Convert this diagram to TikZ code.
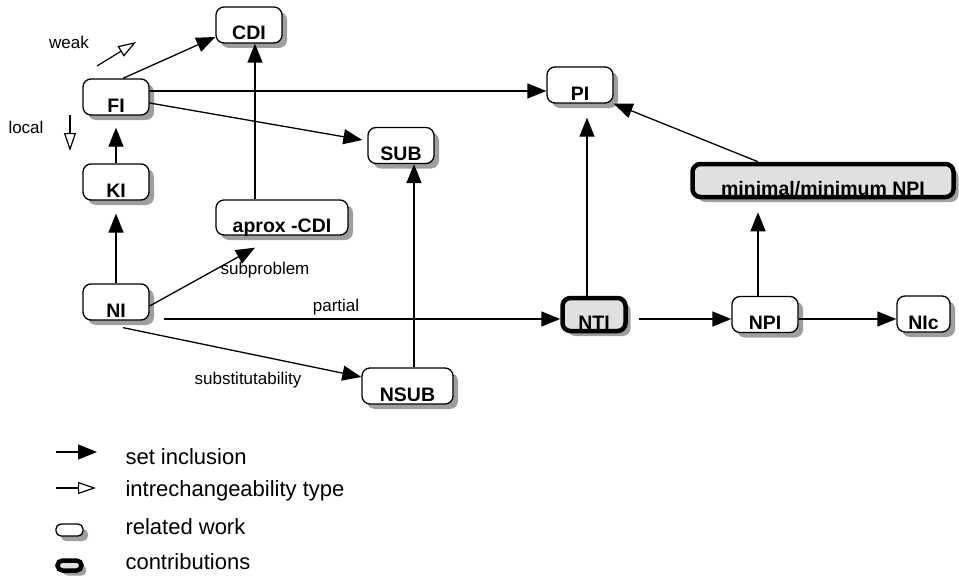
\documentclass[tikz,border=0pt]{standalone}
\usepackage{fontspec}
\setmainfont{Liberation Sans}
\usetikzlibrary{arrows.meta,shadows}
\begin{document}
\begin{tikzpicture}[x=1pt,y=-1pt,
  shade box/.style={drop shadow={shadow xshift=5pt,shadow yshift=-5pt,fill=black!38,opacity=1}},
  work/.style={draw=black,line width=1.3pt,fill=white,rounded corners=8pt,shade box,
    inner sep=0pt,text height=30pt,text depth=0pt,
    font=\fontsize{19.5}{24}\selectfont\bfseries,minimum width=66pt,minimum height=36pt},
  contrib/.style={work,line width=4.5pt,fill=black!12},
  incl/.style={line width=1.3pt,-{Triangle[length=19pt,width=15pt]}},
  kind/.style={line width=1.2pt,-{Triangle[open,length=18pt,width=12pt]}},
  elabel/.style={font=\fontsize{17}{20}\selectfont},
  leglabel/.style={font=\fontsize{22}{26}\selectfont,anchor=west}]
\useasboundingbox (0,0) rectangle (959,578);

% approaches
\node[work] (CDI) at (249,25) {CDI};
\node[work] (FI) at (116,97) {FI\hspace{12pt}};
\node[work] (KI) at (116,182) {KI\hspace{8pt}};
\node[work,minimum width=132pt,minimum height=35pt] (ACDI) at (282,217.5) {aprox -CDI\hspace{20pt}};
\node[work] (NI) at (116,302) {NI\hspace{8pt}};
\node[work] (SUB) at (401,145.5) {SUB};
\node[work,minimum width=91pt] (NSUB) at (407.5,386) {NSUB};
\node[work] (PI) at (580,85) {PI\hspace{12pt}};
\node[contrib,minimum width=261pt,minimum height=33pt] (MNPI) at (823,180.5) {minimal/minimum NPI\hspace{16pt}};
\node[contrib,minimum width=63pt,minimum height=33pt] (NTI) at (594,314.5) {NTI};
\node[work] (NPI) at (765,314.5) {NPI};
\node[work,minimum width=53pt] (NIc) at (923.5,314) {NIc};

% set inclusion
\draw[incl] ([xshift=7pt]FI.north) -- ([yshift=-12pt]CDI.west);
\draw[incl] ([yshift=6pt]FI.east) -- ([yshift=-6pt]PI.west);
\draw[incl] ([yshift=-6pt]FI.east) -- ([xshift=-5pt,yshift=5.5pt]SUB.west);
\draw[incl,shorten >=12pt] (KI.north) -- (FI.south);
\draw[incl,shorten >=13pt] (NI.north) -- (KI.south);
\draw[incl] ([xshift=-27pt]ACDI.north) -- ([xshift=6pt]CDI.south);
\draw[incl] ([yshift=-4pt]NI.east) -- ([xshift=-27pt,yshift=-12pt]ACDI.south);
\draw[incl,shorten <=14pt] ([yshift=-17pt]NI.east) -- ([yshift=-4.5pt]NTI.west);
\draw[incl] ([xshift=7pt,yshift=-7pt]NI.south) -- ([yshift=9pt]NSUB.west);
\draw[incl] ([xshift=6.5pt]NSUB.north) -- ([xshift=13pt]SUB.south);
\draw[incl,shorten >=14pt] ([xshift=-7pt]NTI.north) -- ([xshift=7pt]PI.south);
\draw[incl] ([xshift=-65pt]MNPI.north) -- (PI.south east);
\draw[incl,shorten >=13pt] ([xshift=-7pt]NPI.north) -- ([xshift=-65pt]MNPI.south);
\draw[incl,shorten <=11pt] ([yshift=-4.5pt]NTI.east) -- ([yshift=-4.5pt]NPI.west);
\draw[incl] ([yshift=-4.5pt]NPI.east) -- ([yshift=-5pt]NIc.west);

% connector labels
\node[elabel] (lsub) at (265,270) {subproblem};
\node[elabel] (lpart) at (336,307) {partial};
\node[elabel] (lsubst) at (248,380) {substitutability};

% interchangeability types
\coordinate (w0) at (97,66);
\coordinate (w1) at (136,42);
\draw[kind] (w0) -- (w1);
\node[elabel] (lweak) at (69,42) {weak};
\coordinate (l0) at (70,115);
\coordinate (l1) at (70,151);
\draw[kind] (l0) -- (l1);
\node[elabel] (llocal) at (26,127) {local};

% legend
\coordinate (a0) at (56,452);
\coordinate (a1) at (97,452);
\draw[incl] (a0) -- (a1);
\coordinate (b0) at (56,488);
\coordinate (b1) at (96,488);
\draw[kind] (b0) -- (b1);
\node[draw,line width=1.3pt,fill=white,rounded corners=5pt,shade box,minimum width=27pt,minimum height=12pt,inner sep=0pt] (rw) at (69.5,530) {};
\node[draw,line width=4.5pt,fill=black!12,rounded corners=5pt,shade box,minimum width=24pt,minimum height=10pt,inner sep=0pt] (cw) at (69.5,565.5) {};
\node[leglabel] (t1) at (122,457) {set inclusion};
\node[leglabel] (t2) at (122,491) {intrechangeability type};
\node[leglabel] (t3) at (122,527) {related work};
\node[leglabel] (t4) at (122,562) {contributions};
\end{tikzpicture}
\end{document}
